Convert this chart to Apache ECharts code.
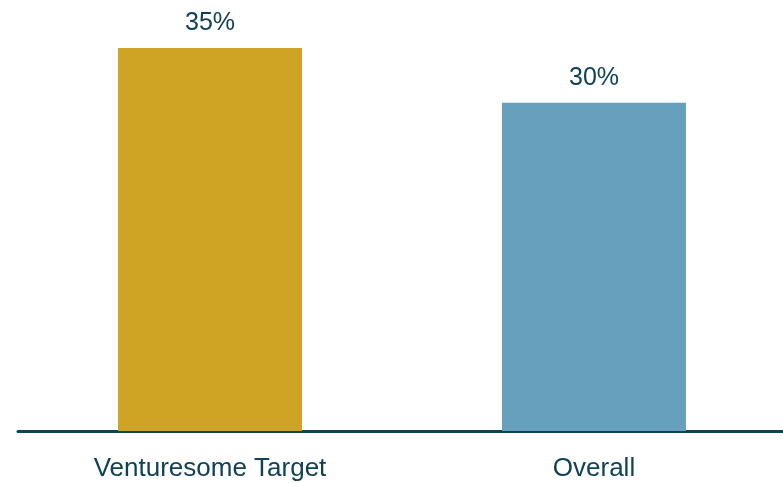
<!DOCTYPE html>
<html>
<head>
<meta charset="utf-8">
<script src="https://cdn.jsdelivr.net/npm/echarts@6/dist/echarts.min.js"></script>
<style>
html, body { margin: 0; padding: 0; background: #fff; overflow: hidden; }
#chart { width: 786px; height: 483px; }
</style>
</head>
<body>
<div id="chart"></div>
<script>
var categories = ['Venturesome Target', 'Overall'];
var values = [35, 30];
var barColors = ['#CFA324', '#66A0BC'];

var chart = echarts.init(document.getElementById('chart'));

//柱形图
var option = {
    animation: false,
    grid: {
        top: 48,
        left: 18,
        right: 0,
        bottom: 52
    },
    xAxis: {
        type: 'category',
        data: categories,
        axisTick: { show: false },
        axisLine: {
            lineStyle: { color: '#0F4157', width: 3 }
        },
        axisLabel: {
            margin: 25,
            color: '#0F4157',
            fontSize: 26,
            fontFamily: '"Liberation Sans Narrow", "Liberation Sans", sans-serif'
        }
    },
    yAxis: {
        type: 'value',
        min: 0,
        max: 35,
        show: false
    },
    series: [{
        type: 'bar',
        barWidth: 184,
        data: values.map(function(v, i){
            return { value: v, itemStyle: { color: barColors[i] } };
        }),
        label: {
            show: true,
            position: 'top',
            distance: 12,
            formatter: '{c}%',
            color: '#0F4157',
            fontSize: 25,
            fontFamily: '"Liberation Sans Narrow", "Liberation Sans", sans-serif'
        }
    }]
};
chart.setOption(option);
</script>
</body>
</html>
